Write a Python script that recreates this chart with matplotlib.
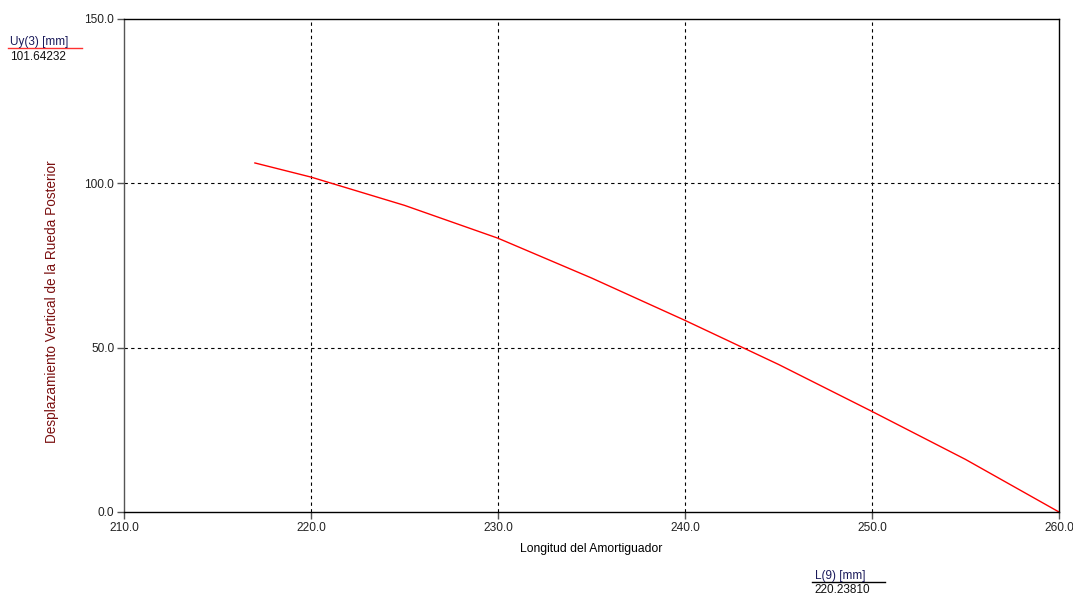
import matplotlib
matplotlib.use("Agg")
import matplotlib.pyplot as plt
from matplotlib.lines import Line2D

plt.rcParams['font.family'] = ['Liberation Sans', 'DejaVu Sans']

# Data
shock_length = [217.0, 220.0, 225.0, 230.0, 235.0, 240.0, 245.0, 250.0, 255.0, 260.0]
wheel_disp = [106.2, 101.9, 93.3, 83.3, 71.2, 58.3, 44.9, 30.6, 16.0, 0.0]
x_ticks = [210.0, 220.0, 230.0, 240.0, 250.0, 260.0]
y_ticks = [0.0, 50.0, 100.0, 150.0]
x_label = "Longitud del Amortiguador"
y_label = "Desplazamiento Vertical de la Rueda Posterior"
y_probe_name = "Uy(3) [mm]"
y_probe_value = "101.64232"
x_probe_name = "L(9) [mm]"
x_probe_value = "220.23810"

W, H = 1073, 594
fig = plt.figure(figsize=(W / 100, H / 100), dpi=100)
ax = fig.add_axes([124 / W, 1 - 512 / H, (1059 - 124) / W, (512 - 19) / H])

ax.plot(shock_length, wheel_disp, color='#ff0000', lw=1.0)

ax.set_xlim(210, 260)
ax.set_ylim(0, 150)
ax.set_xticks(x_ticks)
ax.set_yticks(y_ticks)
ax.set_xticklabels([f"{v:.1f}" for v in x_ticks])
ax.set_yticklabels([f"{v:.1f}" for v in y_ticks])
ax.tick_params(axis='both', direction='out', length=5, width=1, labelsize=8.6,
               color='#555555', labelcolor='#222222', pad=2)
for s in ax.spines.values():
    s.set_color('#000000')
    s.set_linewidth(1.0)
ax.spines['left'].set_color('#555555')

# Grid at interior ticks
for xv in x_ticks[1:-1]:
    ax.axvline(xv, color='#000000', lw=0.8, ls=(0, (3, 3)), zorder=0)
for yv in y_ticks[1:-1]:
    ax.axhline(yv, color='#000000', lw=0.8, ls=(0, (3, 3)), zorder=0)

fig.text(591 / W, 1 - 549 / H, x_label, ha='center', va='center', fontsize=8.7, color='#000000')
fig.text(52 / W, 1 - 302 / H, y_label, ha='center', va='center', rotation=90,
         fontsize=9.8, color='#7a1010')

# probe labels
fig.text(10 / W, 1 - 42 / H, y_probe_name, ha='left', va='center', fontsize=8.5, color='#1a1a5a')
fig.add_artist(Line2D([8 / W, 82 / W], [1 - 48 / H, 1 - 48 / H], color='#ff3030', lw=1.0))
fig.text(10 / W, 1 - 57 / H, y_probe_value, ha='left', va='center', fontsize=8.5, color='#111111')

fig.text(815 / W, 1 - 576 / H, x_probe_name, ha='left', va='center', fontsize=8.5, color='#1a1a5a')
fig.add_artist(Line2D([812 / W, 885 / W], [1 - 582 / H, 1 - 582 / H], color='#000000', lw=1.0))
fig.text(814 / W, 1 - 590 / H, x_probe_value, ha='left', va='center', fontsize=8.5, color='#111111')

fig.savefig("out.png", dpi=100)
